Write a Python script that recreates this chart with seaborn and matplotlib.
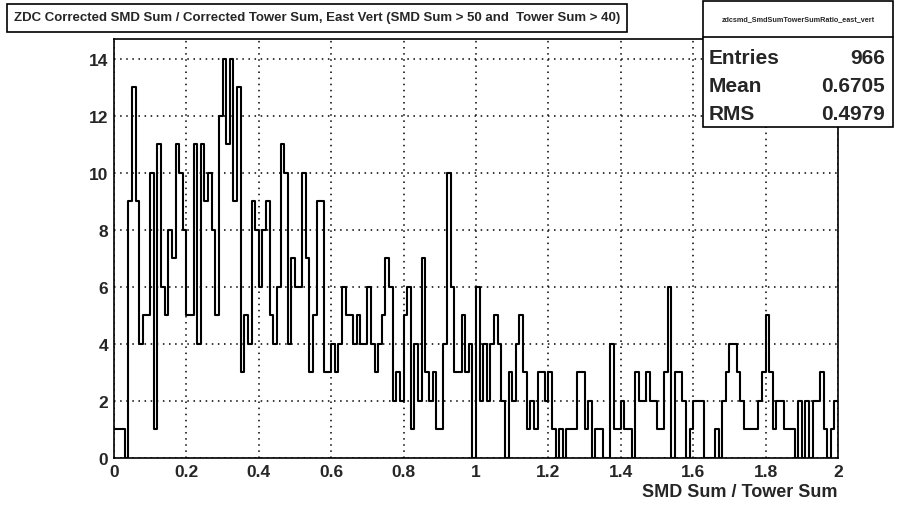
'''
Recreate ROOT style histogram of ZDC SMD sum / tower sum ratio
'''
import numpy             as np
import pandas            as pnd
import seaborn           as sns
import matplotlib.pyplot as plt

from matplotlib.patches import Rectangle
from matplotlib.ticker  import MultipleLocator, FuncFormatter

# ----------------------
# data, 200 bins between 0 and 2
x_min  = 0.0
x_max  = 2.0
n_bins = 200
counts = [
    1, 1, 1, 0, 9,13, 9, 4, 5, 5,10, 1,11, 6, 5, 8, 7,11,10, 8,
    5, 5,11, 4,11, 9,10, 8, 5,12,14,11,14, 9,13, 3, 5, 4, 9, 8,
    6, 8, 9, 5, 4, 6,11,10, 4, 7, 6, 6,10, 7, 3, 5, 9, 9, 3, 3,
    4, 3, 4, 6, 5, 5, 4, 5, 4, 4, 6, 4, 3, 4, 5, 7, 6, 2, 3, 2,
    5, 6, 1, 4, 2, 7, 3, 2, 3, 1, 1, 4,10, 6, 3, 3, 5, 3, 4, 0,
    6, 2, 4, 2, 4, 5, 4, 2, 0, 3, 2, 4, 5, 3, 1, 2, 1, 3, 3, 2,
    3, 1, 0, 1, 0, 1, 1, 1, 3, 3, 1, 2, 0, 1, 1, 0, 0, 4, 1, 1,
    2, 1, 1, 0, 3, 2, 2, 3, 2, 2, 1, 1, 3, 6, 0, 3, 3, 2, 0, 1,
    2, 2, 2, 0, 0, 0, 1, 0, 2, 3, 4, 4, 3, 2, 1, 1, 1, 1, 2, 3,
    5, 3, 1, 2, 2, 1, 1, 1, 0, 2, 0, 2, 0, 2, 2, 3, 1, 0, 1, 2,
]

title       = 'ZDC Corrected SMD Sum / Corrected Tower Sum, East Vert (SMD Sum > 50 and  Tower Sum > 40)'
hist_name   = 'zdcsmd_SmdSumTowerSumRatio_east_vert'
stat_names  = ['Entries', 'Mean', 'RMS']
stat_values = ['966', '0.6705', '0.4979']
x_label     = 'SMD Sum / Tower Sum'
y_max       = 14.7

W, H = 903, 506
# ----------------------
def _px(x : float, y : float) -> tuple[float,float]:
    '''
    Pixel coordinates (from top left) to figure fraction
    '''
    return x / W, 1 - y / H
# ----------------------
def _fmt(val, _pos) -> str:
    return f'{val:g}'
# ----------------------
def _draw_hist(ax) -> None:
    width   = (x_max - x_min) / n_bins
    centers = x_min + width * (np.arange(n_bins) + 0.5)
    df      = pnd.DataFrame({'ratio' : centers, 'count' : counts})

    sns.histplot(data=df, x='ratio', weights='count', bins=n_bins, binrange=(x_min, x_max),
                 element='step', fill=False, color='black', linewidth=1.5, ax=ax)

    ax.set_xlim(x_min, x_max)
    ax.set_ylim(0, y_max)
    ax.set_xlabel('')
    ax.set_ylabel('')

    ax.xaxis.set_major_locator(MultipleLocator(0.2))
    ax.xaxis.set_minor_locator(MultipleLocator(0.05))
    ax.yaxis.set_major_locator(MultipleLocator(2))
    ax.yaxis.set_minor_locator(MultipleLocator(0.5))
    ax.xaxis.set_major_formatter(FuncFormatter(_fmt))
    ax.yaxis.set_major_formatter(FuncFormatter(_fmt))

    ax.tick_params(axis='x', which='major', direction='in', length=9.0, width=1, pad=4, labelsize=12.5)
    ax.tick_params(axis='x', which='minor', direction='in', length=4.5, width=1)
    ax.tick_params(axis='y', which='major', direction='in', length=15.5, width=1, pad=4, labelsize=12.5)
    ax.tick_params(axis='y', which='minor', direction='in', length=7.8, width=1)
    ax.tick_params(top=False, right=False, which='both')
    for lab in ax.get_xticklabels() + ax.get_yticklabels():
        lab.set_fontweight('bold')

    ax.grid(True, which='major', color='black', linestyle=(0, (1, 3)), linewidth=1.1)
    for spine in ax.spines.values():
        spine.set_color('black')
        spine.set_linewidth(1.2)
# ----------------------
def _draw_boxes(fig) -> None:
    # title box
    x0, y0 = _px(7, 33)
    x1, y1 = _px(627, 5)
    fig.patches.append(Rectangle((x0, y0), x1 - x0, y1 - y0, transform=fig.transFigure,
                                 facecolor='white', edgecolor='black', linewidth=1.2, zorder=5))
    tx, ty = _px(317, 18)
    fig.text(tx, ty, title, ha='center', va='center', fontsize=9.5, fontweight='bold', zorder=6)

    # stat box
    x0, y0 = _px(703, 128)
    x1, y1 = _px(893, 2)
    fig.patches.append(Rectangle((x0, y0), x1 - x0, y1 - y0, transform=fig.transFigure,
                                 facecolor='white', edgecolor='black', linewidth=1.2, zorder=5))
    lx0, ly = _px(703, 38)
    lx1, _  = _px(893, 38)
    fig.add_artist(plt.Line2D([lx0, lx1], [ly, ly], transform=fig.transFigure, color='black', linewidth=1.2, zorder=6))
    tx, ty = _px(798, 20)
    fig.text(tx, ty, hist_name, ha='center', va='center', fontsize=5.2, fontweight='bold', zorder=6)

    for i_row, (name, value) in enumerate(zip(stat_names, stat_values)):
        nx, ny = _px(709, 59 + 28 * i_row)
        vx, _  = _px(885, 59 + 28 * i_row)
        fig.text(nx, ny, name , ha='left' , va='center', fontsize=15, fontweight='bold', zorder=6)
        fig.text(vx, ny, value, ha='right', va='center', fontsize=15, fontweight='bold', zorder=6)

    lx, ly = _px(838, 493)
    fig.text(lx, ly, x_label, ha='right', va='center', fontsize=13, fontweight='bold')
# ----------------------
def main():
    '''
    Entry point
    '''
    sns.set_style('white')
    plt.rcParams['font.family'] = ['Liberation Sans', 'DejaVu Sans']

    fig = plt.figure(figsize=(W / 100, H / 100), dpi=100)
    fig.patch.set_facecolor('white')
    ax  = fig.add_axes([114 / W, 47 / H, 724 / W, 419 / H])

    _draw_hist(ax)
    _draw_boxes(fig)

    fig.savefig('out.png', dpi=100)
# ----------------------
if __name__ == '__main__':
    main()
